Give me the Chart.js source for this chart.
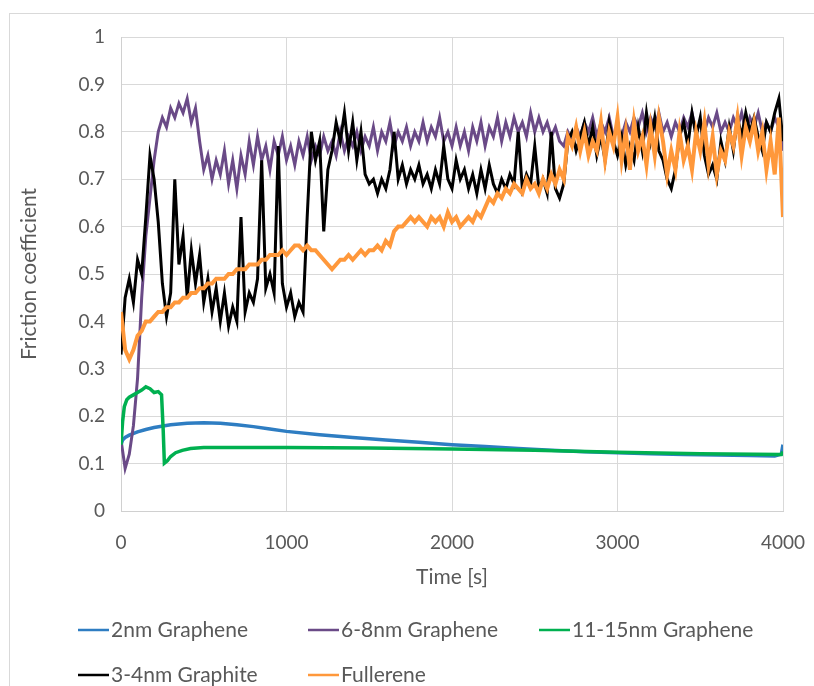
<!DOCTYPE html>
<html>

<head>
    <title>Friction coefficient vs time</title>
    <script src="https://cdn.jsdelivr.net/npm/chart.js"></script>
    <style>
        html, body { margin: 0; padding: 0; background: #ffffff; }
        #wrap { width: 814px; height: 686px; }
    </style>
</head>

<body>

    <div id="wrap">
        <canvas id="myChart" width="814" height="686"></canvas>
    </div>

    <script>
        // series names, in the order of the legend
        const seriesNames = ['2nm Graphene', '6-8nm Graphene', '11-15nm Graphene', '3-4nm Graphite', 'Fullerene'];

        // noisy series are sampled every 25 s, from 0 to 4000 s
        const noisyStep = 25;

        // 2nm Graphene (smooth, own time samples)
        const graphene2Time = [0, 10, 25, 50, 100, 150, 200, 300, 400, 500, 600, 700, 800, 900, 1000, 1200, 1400, 1600, 1800, 2000, 2200, 2400, 2600, 2800, 3000, 3200, 3400, 3600, 3800, 3950, 3990, 4000];
        const graphene2 = [0.14, 0.15, 0.155, 0.16, 0.167, 0.172, 0.176, 0.182, 0.185, 0.186, 0.185, 0.182, 0.178, 0.173, 0.168, 0.161, 0.155, 0.150, 0.145, 0.140, 0.136, 0.132, 0.128, 0.125, 0.123, 0.121, 0.119, 0.118, 0.117, 0.116, 0.12, 0.14];

        // 11-15nm Graphene (smooth, own time samples)
        const graphene11Time = [0, 10, 20, 35, 50, 75, 100, 125, 150, 175, 200, 225, 245, 255, 262, 280, 300, 330, 370, 420, 500, 700, 1000, 1500, 2000, 2500, 3000, 3500, 3990, 4000];
        const graphene11 = [0.14, 0.19, 0.22, 0.235, 0.24, 0.245, 0.25, 0.255, 0.262, 0.258, 0.25, 0.252, 0.245, 0.17, 0.101, 0.106, 0.115, 0.123, 0.128, 0.132, 0.134, 0.134, 0.134, 0.133, 0.131, 0.128, 0.124, 0.121, 0.119, 0.125];

        // 6-8nm Graphene, every 25 s
        const graphene6 = [
            0.15, 0.09, 0.12, 0.18, 0.28, 0.45, 0.58, 0.66, 0.74, 0.80,
            0.83, 0.81, 0.85, 0.83, 0.86, 0.84, 0.87, 0.82, 0.85, 0.78,
            0.72, 0.75, 0.70, 0.74, 0.71, 0.76, 0.69, 0.74, 0.68, 0.75,
            0.71, 0.78, 0.73, 0.79, 0.74, 0.77, 0.72, 0.78, 0.75, 0.79,
            0.74, 0.77, 0.73, 0.78, 0.75, 0.79, 0.74, 0.77, 0.75, 0.79,
            0.76, 0.78, 0.75, 0.80, 0.76, 0.79, 0.77, 0.80, 0.76, 0.79,
            0.77, 0.81, 0.76, 0.80, 0.78, 0.82, 0.77, 0.80, 0.78, 0.81,
            0.77, 0.80, 0.78, 0.82, 0.78, 0.81, 0.79, 0.83, 0.78, 0.80,
            0.77, 0.81, 0.77, 0.80, 0.76, 0.81, 0.78, 0.82, 0.77, 0.81,
            0.79, 0.83, 0.78, 0.82, 0.79, 0.83, 0.80, 0.82, 0.79, 0.84,
            0.80, 0.83, 0.80, 0.82, 0.79, 0.81, 0.78, 0.77, 0.80, 0.78,
            0.81, 0.79, 0.82, 0.80, 0.83, 0.79, 0.82, 0.80, 0.83, 0.79,
            0.81, 0.79, 0.82, 0.80, 0.83, 0.81, 0.84, 0.80, 0.83, 0.81,
            0.84, 0.80, 0.82, 0.79, 0.82, 0.80, 0.83, 0.81, 0.84, 0.80,
            0.82, 0.80, 0.83, 0.81, 0.84, 0.80, 0.82, 0.80, 0.83, 0.81,
            0.84, 0.80, 0.83, 0.81, 0.84, 0.80, 0.82, 0.80, 0.83, 0.81,
            0.76
        ];

        // 3-4nm Graphite, every 25 s
        const graphite = [
            0.33, 0.45, 0.49, 0.44, 0.53, 0.50, 0.62, 0.75, 0.70, 0.61,
            0.48, 0.41, 0.46, 0.70, 0.52, 0.58, 0.45, 0.55, 0.48, 0.54,
            0.44, 0.49, 0.42, 0.47, 0.40, 0.46, 0.39, 0.43, 0.40, 0.62,
            0.42, 0.46, 0.44, 0.49, 0.74, 0.47, 0.50, 0.46, 0.77, 0.48,
            0.43, 0.46, 0.41, 0.44, 0.42, 0.62, 0.80, 0.74, 0.78, 0.59,
            0.72, 0.76, 0.82, 0.78, 0.84, 0.76, 0.82, 0.74, 0.80, 0.71,
            0.69, 0.70, 0.67, 0.70, 0.68, 0.72, 0.80, 0.70, 0.73, 0.69,
            0.72, 0.70, 0.73, 0.69, 0.71, 0.68, 0.72, 0.69, 0.77, 0.70,
            0.68, 0.74, 0.70, 0.72, 0.68, 0.71, 0.67, 0.72, 0.68, 0.73,
            0.69, 0.67, 0.70, 0.68, 0.71, 0.69, 0.80, 0.68, 0.71, 0.69,
            0.77, 0.68, 0.70, 0.67, 0.80, 0.68, 0.66, 0.69, 0.78, 0.80,
            0.76, 0.79, 0.82, 0.77, 0.81, 0.75, 0.79, 0.74, 0.82, 0.78,
            0.75, 0.79, 0.73, 0.77, 0.74, 0.81, 0.76, 0.84, 0.78, 0.83,
            0.76, 0.74, 0.70, 0.68, 0.72, 0.79, 0.82, 0.77, 0.84, 0.79,
            0.83, 0.75, 0.71, 0.73, 0.70, 0.78, 0.74, 0.81, 0.76, 0.83,
            0.79, 0.84, 0.80, 0.83, 0.79, 0.76, 0.82, 0.80, 0.84, 0.87,
            0.78
        ];

        // Fullerene, every 25 s
        const fullerene = [
            0.42, 0.34, 0.32, 0.34, 0.37, 0.38, 0.40, 0.40, 0.41, 0.42,
            0.42, 0.43, 0.43, 0.44, 0.44, 0.45, 0.45, 0.46, 0.46, 0.47,
            0.47, 0.48, 0.48, 0.49, 0.49, 0.49, 0.50, 0.50, 0.51, 0.51,
            0.51, 0.52, 0.52, 0.52, 0.53, 0.53, 0.54, 0.54, 0.54, 0.55,
            0.54, 0.55, 0.56, 0.56, 0.55, 0.56, 0.55, 0.55, 0.54, 0.53,
            0.52, 0.51, 0.52, 0.53, 0.53, 0.54, 0.53, 0.54, 0.55, 0.54,
            0.55, 0.55, 0.56, 0.55, 0.57, 0.56, 0.59, 0.60, 0.60, 0.61,
            0.62, 0.61, 0.62, 0.61, 0.60, 0.62, 0.61, 0.62, 0.60, 0.63,
            0.61, 0.62, 0.60, 0.61, 0.62, 0.61, 0.63, 0.62, 0.64, 0.66,
            0.65, 0.67, 0.66, 0.68, 0.67, 0.69, 0.68, 0.67, 0.70, 0.68,
            0.69, 0.67, 0.70, 0.68, 0.71, 0.69, 0.72, 0.70, 0.79, 0.77,
            0.81, 0.76, 0.80, 0.75, 0.78, 0.76, 0.82, 0.74, 0.80, 0.77,
            0.83, 0.74, 0.80, 0.72, 0.82, 0.76, 0.79, 0.73, 0.81, 0.75,
            0.83, 0.78, 0.71, 0.76, 0.72, 0.80, 0.74, 0.77, 0.72, 0.80,
            0.76, 0.82, 0.73, 0.79, 0.71, 0.76, 0.74, 0.80, 0.77, 0.83,
            0.75, 0.81, 0.78, 0.82, 0.76, 0.80, 0.72, 0.78, 0.71, 0.83,
            0.62
        ];

        const seriesColors = ['#2E7DC2', '#6A4A87', '#00B050', '#000000', '#FF983B'];

        function pairs(times, values) {
            return values.map((v, i) => ({ x: times[i], y: v }));
        }
        function everyStep(values) {
            return values.map((v, i) => ({ x: i * noisyStep, y: v }));
        }

        const seriesPoints = [
            pairs(graphene2Time, graphene2),
            everyStep(graphene6),
            pairs(graphene11Time, graphene11),
            everyStep(graphite),
            everyStep(fullerene)
        ];
        const lineWidths = [3.5, 3, 3.5, 3, 4];

        const textColor = '#595959';
        const fontFamily = 'Lato, "Open Sans", sans-serif';

        // light frame around the whole figure
        const framePlugin = {
            id: 'frame',
            beforeDraw(chart) {
                const ctx = chart.ctx;
                ctx.save();
                ctx.fillStyle = '#ffffff';
                ctx.fillRect(0, 0, chart.width, chart.height);
                ctx.strokeStyle = '#D9D9D9';
                ctx.lineWidth = 1;
                ctx.strokeRect(9.5, 13.5, chart.width + 20, chart.height + 20);
                ctx.restore();
            }
        };

        // legend in a two-row grid like the original
        const gridLegend = {
            id: 'gridLegend',
            afterDraw(chart) {
                const ctx = chart.ctx;
                const cols = [78, 308, 539];
                const rows = [630, 675];
                ctx.save();
                ctx.font = '21px ' + fontFamily;
                ctx.textBaseline = 'middle';
                ctx.fillStyle = textColor;
                chart.data.datasets.forEach((ds, i) => {
                    const x = cols[i % 3];
                    const y = rows[Math.floor(i / 3)];
                    ctx.strokeStyle = ds.borderColor;
                    ctx.lineWidth = 2.5;
                    ctx.beginPath();
                    ctx.moveTo(x, y);
                    ctx.lineTo(x + 31, y);
                    ctx.stroke();
                    ctx.fillText(ds.label, x + 33, y);
                });
                ctx.restore();
            }
        };

        const config = {
            type: 'line',
            data: {
                datasets: seriesNames.map((name, i) => ({
                    label: name,
                    data: seriesPoints[i],
                    borderColor: seriesColors[i],
                    backgroundColor: seriesColors[i],
                    borderWidth: lineWidths[i],
                    pointRadius: 0,
                    tension: 0,
                    fill: false,
                    order: seriesNames.length - i
                }))
            },
            options: {
                responsive: false,
                animation: false,
                layout: {
                    padding: { left: 0, top: 37, right: 31, bottom: 95 }
                },
                plugins: {
                    legend: { display: false },
                    tooltip: { enabled: false }
                },
                scales: {
                    x: {
                        type: 'linear',
                        min: 0,
                        max: 4000,
                        afterFit: (s) => {
                            s.height = 80;
                            s.paddingLeft = 0;
                            s.paddingRight = 0;
                        },
                        ticks: {
                            stepSize: 1000,
                            padding: 20,
                            color: textColor,
                            font: { family: fontFamily, size: 19 },
                            callback: (v) => String(v)
                        },
                        grid: { color: '#D9D9D9', drawTicks: false },
                        border: { color: '#D0D0D0' },
                        title: {
                            display: true,
                            text: 'Time [s]',
                            color: textColor,
                            font: { family: fontFamily, size: 21 },
                            padding: { top: 0, bottom: 1 }
                        }
                    },
                    y: {
                        min: 0,
                        max: 1,
                        afterFit: (s) => {
                            s.width = 121;
                            s.paddingTop = 0;
                            s.paddingBottom = 0;
                        },
                        ticks: {
                            stepSize: 0.1,
                            padding: 16,
                            color: textColor,
                            font: { family: fontFamily, size: 19 },
                            callback: (v) => String(Math.round(v * 10) / 10)
                        },
                        grid: { color: '#D9D9D9', drawTicks: false },
                        border: { color: '#D0D0D0' },
                        title: {
                            display: true,
                            text: 'Friction coefficient',
                            color: textColor,
                            font: { family: fontFamily, size: 21 },
                            padding: { top: 17, bottom: 0 }
                        }
                    }
                }
            },
            plugins: [framePlugin, gridLegend]
        };

        const myChart = new Chart(document.getElementById('myChart'), config);
    </script>

</body>

</html>
